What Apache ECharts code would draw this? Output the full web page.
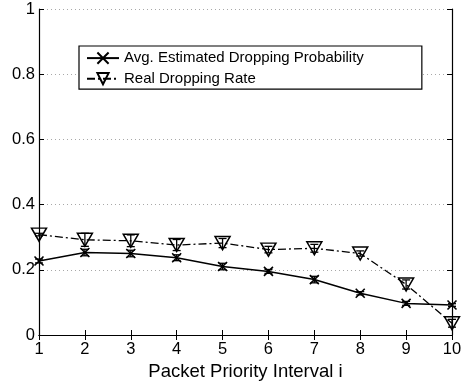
<!DOCTYPE html>
<html>
<head>
<meta charset="utf-8">
<script src="https://cdn.jsdelivr.net/npm/echarts@6/dist/echarts.min.js"></script>
<style>
  html, body { margin: 0; padding: 0; background: #fff; }
  #chart { width: 461px; height: 381px; }
</style>
</head>
<body>
<div id="chart"></div>
<script>
// priority intervals 1..10
const intervals = [1, 2, 3, 4, 5, 6, 7, 8, 9, 10];
// avg. estimated dropping probability (solid, x markers)
const estimated = [0.227, 0.253, 0.250, 0.237, 0.210, 0.195, 0.170, 0.128, 0.097, 0.092];
const estimatedErr = [0.006, 0.010, 0.010, 0.009, 0.010, 0.006, 0.010, 0.005, 0.006, 0.004];
// real dropping rate (dash-dot, down triangles)
const realRate = [0.308, 0.292, 0.289, 0.276, 0.282, 0.262, 0.266, 0.250, 0.155, 0.036];
const realErr = [0.004, 0.020, 0.018, 0.017, 0.014, 0.010, 0.012, 0.008, 0.014, 0.012];
const yTicks = [0, 0.2, 0.4, 0.6, 0.8, 1];

const FONT = 'Liberation Sans, Arial, Helvetica, sans-serif';
const X_SYMBOL = 'path://M0,0L10,10M10,0L0,10';

let myChart = echarts.init(document.getElementById('chart'));

// error bar renderer (I-beam)
function errBars(values, errs) {
  return {
    type: 'custom',
    xAxisIndex: 0,
    yAxisIndex: 0,
    silent: true,
    z: 3,
    data: intervals.map((x, i) => [x, values[i] - errs[i], values[i] + errs[i]]),
    renderItem: function (params, api) {
      let lo = api.coord([api.value(0), api.value(1)]);
      let hi = api.coord([api.value(0), api.value(2)]);
      let w = 4;
      let st = { stroke: '#000', lineWidth: 1.3 };
      return {
        type: 'group',
        children: [
          { type: 'line', shape: { x1: lo[0], y1: lo[1], x2: hi[0], y2: hi[1] }, style: st },
          { type: 'line', shape: { x1: lo[0] - w, y1: lo[1], x2: lo[0] + w, y2: lo[1] }, style: st },
          { type: 'line', shape: { x1: hi[0] - w, y1: hi[1], x2: hi[0] + w, y2: hi[1] }, style: st },
        ],
      };
    },
  };
}

let axisLine = { show: true, lineStyle: { color: '#000', width: 1.2 } };
let tick = { show: true, inside: true, length: 5, lineStyle: { color: '#000', width: 1 } };

let option = {
  animation: false,
  backgroundColor: '#fff',
  grid: { left: 39, right: 9, top: 9, bottom: 46, outerBoundsMode: 'none', containLabel: false },
  legend: {
    orient: 'vertical',
    left: 79,
    top: 46,
    padding: [4, 58, 3, 7],
    itemWidth: 32,
    itemHeight: 14,
    itemGap: 5,
    borderColor: '#000',
    borderWidth: 1.2,
    backgroundColor: '#fff',
    textStyle: { fontFamily: FONT, fontSize: 15, color: '#000' },
    data: ['Avg. Estimated Dropping Probability', 'Real Dropping Rate'],
  },
  xAxis: [
    {
      type: 'value',
      min: 1,
      max: 10,
      interval: 1,
      axisLine: axisLine,
      axisTick: tick,
      splitLine: { show: false },
      axisLabel: { fontFamily: FONT, fontSize: 16.5, color: '#000', margin: 6 },
      name: 'Packet Priority Interval i',
      nameLocation: 'middle',
      nameGap: 23,
      nameTextStyle: { fontFamily: FONT, fontSize: 18.5, color: '#000' },
    },
    {
      type: 'value',
      position: 'top',
      min: 1,
      max: 10,
      interval: 1,
      axisLine: axisLine,
      axisTick: tick,
      axisLabel: { show: false },
      splitLine: { show: false },
    },
  ],
  yAxis: [
    {
      type: 'value',
      min: 0,
      max: 1,
      interval: 0.2,
      axisLine: axisLine,
      axisTick: tick,
      axisLabel: {
        fontFamily: FONT,
        fontSize: 16.5,
        color: '#000',
        margin: 4,
        formatter: function (v) {
          let t = yTicks.find((y) => Math.abs(y - v) < 1e-9);
          return t === undefined ? '' : String(t);
        },
      },
      splitLine: { show: true, lineStyle: { color: '#a8a8a8', type: [1, 3], width: 1 } },
    },
    {
      type: 'value',
      position: 'right',
      min: 0,
      max: 1,
      interval: 0.2,
      axisLine: axisLine,
      axisTick: tick,
      axisLabel: { show: false },
      splitLine: { show: false },
    },
  ],
  series: [
    {
      name: 'Avg. Estimated Dropping Probability',
      type: 'line',
      data: intervals.map((x, i) => [x, estimated[i]]),
      symbol: X_SYMBOL,
      symbolSize: 9,
      z: 4,
      lineStyle: { color: '#000', width: 1.5 },
      itemStyle: { color: 'none', borderColor: '#000', borderWidth: 1.6 },
    },
    {
      name: 'Real Dropping Rate',
      type: 'line',
      data: intervals.map((x, i) => [x, realRate[i]]),
      symbol: 'triangle',
      symbolRotate: 180,
      symbolSize: [15, 13],
      z: 4,
      lineStyle: { color: '#000', width: 1.3, type: [8, 3, 2, 3] },
      itemStyle: { color: 'rgba(255,255,255,0)', borderColor: '#000', borderWidth: 1.5 },
    },
    errBars(estimated, estimatedErr),
    errBars(realRate, realErr),
  ],
};

myChart.setOption(option);
</script>
</body>
</html>
